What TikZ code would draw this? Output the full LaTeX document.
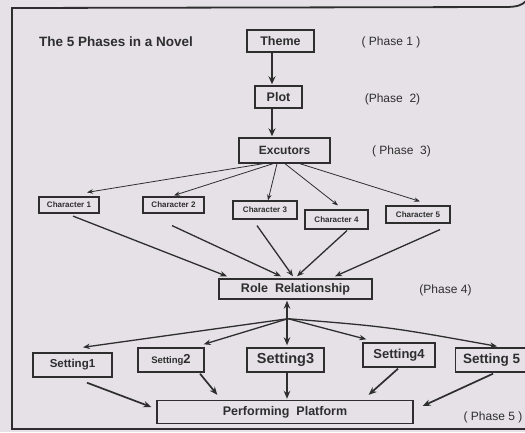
\documentclass[tikz,border=0pt]{standalone}
\usepackage{fontspec}
\setmainfont{Liberation Sans}
\usetikzlibrary{arrows.meta,calc}
\definecolor{bg}{HTML}{E5E1E7}
\definecolor{ink}{HTML}{2E2E2E}
\newcommand{\fs}[1]{\fontsize{#1}{#1}\selectfont}
\begin{document}
\begin{tikzpicture}[x=1pt,y=-1pt,
 box/.style={draw=ink,line width=1.4pt,fill=bg,inner sep=0pt,text=ink,font=\bfseries},
 lab/.style={text=ink,inner sep=0pt},
 bigarrow/.style={draw=ink,line width=2pt,-{Stealth[length=8pt,width=7pt]}},
 thinarrow/.style={draw=ink,line width=0.8pt,-{Stealth[length=6pt,width=4.5pt]}},
 midarrow/.style={draw=ink,line width=1.3pt,-{Stealth[length=7pt,width=5.5pt]}},
 setarrow/.style={draw=ink,line width=1.7pt,-{Stealth[length=8pt,width=6.5pt]}},
]
\fill[bg] (0,0) rectangle (525,432);
\useasboundingbox (0,0) rectangle (525,432);
% frame
\draw[ink,line width=1.8pt] (526,1) .. controls (522,5) and (518,7) .. (505,7) -- (12,8) -- (12,429) -- (526,429);

% title and phase labels
\node[lab,font=\bfseries\fs{13.5}] (title) at (116,42) {The 5 Phases in a Novel};
\node[lab,font=\fs{12}] (p1) at (391,42) {( Phase 1 )};
\node[lab,font=\fs{12}] (p2) at (392.5,99) {(Phase~~2)};
\node[lab,font=\fs{12}] (p3) at (401.5,151) {( Phase~~3)};
\node[lab,font=\fs{12}] (p4) at (445.5,290) {(Phase 4)};
\node[lab,font=\fs{12}] (p5) at (493,417) {( Phase 5 )};

% boxes
\node[box,minimum width=67pt,minimum height=22pt,font=\bfseries\fs{12.5}] (theme) at (280.5,41) {Theme};
\node[box,minimum width=47pt,minimum height=22pt,font=\bfseries\fs{12.5}] (plot) at (278.5,97) {Plot};
\node[box,minimum width=91pt,minimum height=25pt,font=\bfseries\fs{12}] (exc) at (284.5,150.5) {Excutors};

\node[box,line width=1.2pt,minimum width=60pt,minimum height=16pt,font=\bfseries\fs{8}] (c1) at (69,205) {Character 1};
\node[box,line width=1.2pt,minimum width=61pt,minimum height=16pt,font=\bfseries\fs{8}] (c2) at (173.5,205) {Character 2};
\node[box,line width=1.2pt,minimum width=64pt,minimum height=18pt,font=\bfseries\fs{8}] (c3) at (265,210) {Character 3};
\node[box,line width=1.2pt,minimum width=63pt,minimum height=19pt,font=\bfseries\fs{8}] (c4) at (336.5,219.5) {Character 4};
\node[box,line width=1.2pt,minimum width=64pt,minimum height=17pt,font=\bfseries\fs{8}] (c5) at (418,214.5) {Character 5};

\node[box,minimum width=153pt,minimum height=20pt,font=\bfseries\fs{12.5}] (role) at (295.5,289) {Role~~Relationship};

\node[box,minimum width=79pt,minimum height=24pt,font=\bfseries\fs{11.5}] (s1) at (72.5,365) {Setting1};
\node[box,minimum width=66pt,minimum height=24pt,font=\bfseries] (s2) at (171,360) {{\fs{9.5}Setting}{\fs{13}2}};
\node[box,minimum width=77pt,minimum height=24pt,font=\bfseries\fs{14.5}] (s3) at (285.5,360) {Setting3};
\node[box,minimum width=72pt,minimum height=24pt,font=\bfseries\fs{13}] (s4) at (399,355) {Setting4};
\node[box,minimum width=72pt,minimum height=24pt,font=\bfseries\fs{13.5},anchor=west] (s5) at (455,360) {Setting 5};

\node[box,minimum width=256pt,minimum height=23pt,font=\bfseries\fs{12.5}] (pp) at (285,412) {Performing~~Platform};

% phase 1-3 arrows
\draw[bigarrow] ($(theme.south)+(-8.5,0)$) -- ($(plot.north)+(-6.5,-1)$);
\draw[bigarrow] ($(plot.south)+(-6.5,0)$) -- ($(exc.north)+(-12.5,-1)$);

% excutors to characters
\draw[thinarrow] ($(exc.south)+(-21.5,0)$) -- ($(c1.north)+(18,-4)$);
\draw[thinarrow] ($(exc.south)+(-11.5,0)$) -- ($(c2.north)+(0.5,-1)$);
\draw[thinarrow] ($(exc.south)+(-7.5,0)$) -- ($(c3.north)+(3,0)$);
\draw[thinarrow] ($(exc.south)+(0.5,0)$) -- ($(c4.north)+(1.5,-4)$);
\draw[thinarrow] ($(exc.south)+(15.5,0)$) -- ($(c5.north)+(2,-4)$);

% characters to role relationship
\draw[midarrow] ($(c1.south)+(4,2.5)$) -- ($(role.north)+(-68.5,-2)$);
\draw[midarrow] ($(c2.south)+(-1.5,12)$) -- ($(role.north)+(-14.5,-2)$);
\draw[midarrow] ($(c3.south)+(-8,6)$) -- ($(role.north)+(-2.5,-2)$);
\draw[midarrow] ($(c4.south)+(10.5,1)$) -- ($(role.north)+(1.5,-2)$);
\draw[midarrow] ($(c5.south)+(22,6)$) -- ($(role.north)+(39.5,-2)$);

% role relationship to settings
\coordinate (j) at ($(role.south)+(-7.5,19)$);
\draw[setarrow,{Stealth[length=8pt,width=6.5pt]}-{Stealth[length=8pt,width=6.5pt]}] ($(role.south)+(-8.5,1)$) -- ($(s3.north)+(1.5,-2)$);
\draw[midarrow] (j) -- ($(s1.north)+(10.5,-5)$);
\draw[midarrow] (j) -- ($(s2.north east)+(-1,-3)$);
\draw[midarrow] (j) -- ($(s4.north west)+(4,-3)$);
\draw[midarrow] (j) .. controls ($(j)+(100,8)$) .. ($(s5.north west)+(42,-1)$);

% settings to performing platform
\draw[setarrow] ($(s1.south)+(14.5,5)$) -- ($(pp.west)+(-5,-5)$);
\draw[setarrow] ($(s2.south)+(29,1)$) -- ($(pp.north west)+(61,-5)$);
\draw[setarrow] ($(s3.south)+(1.5,0)$) -- ($(pp.north)+(2,-1)$);
\draw[setarrow] ($(s4.south)+(-1,1)$) -- ($(pp.north east)+(-45,-5)$);
\draw[setarrow] ($(s5.south west)+(38,1)$) -- ($(pp.east)+(9,-6)$);
\end{tikzpicture}
\end{document}
